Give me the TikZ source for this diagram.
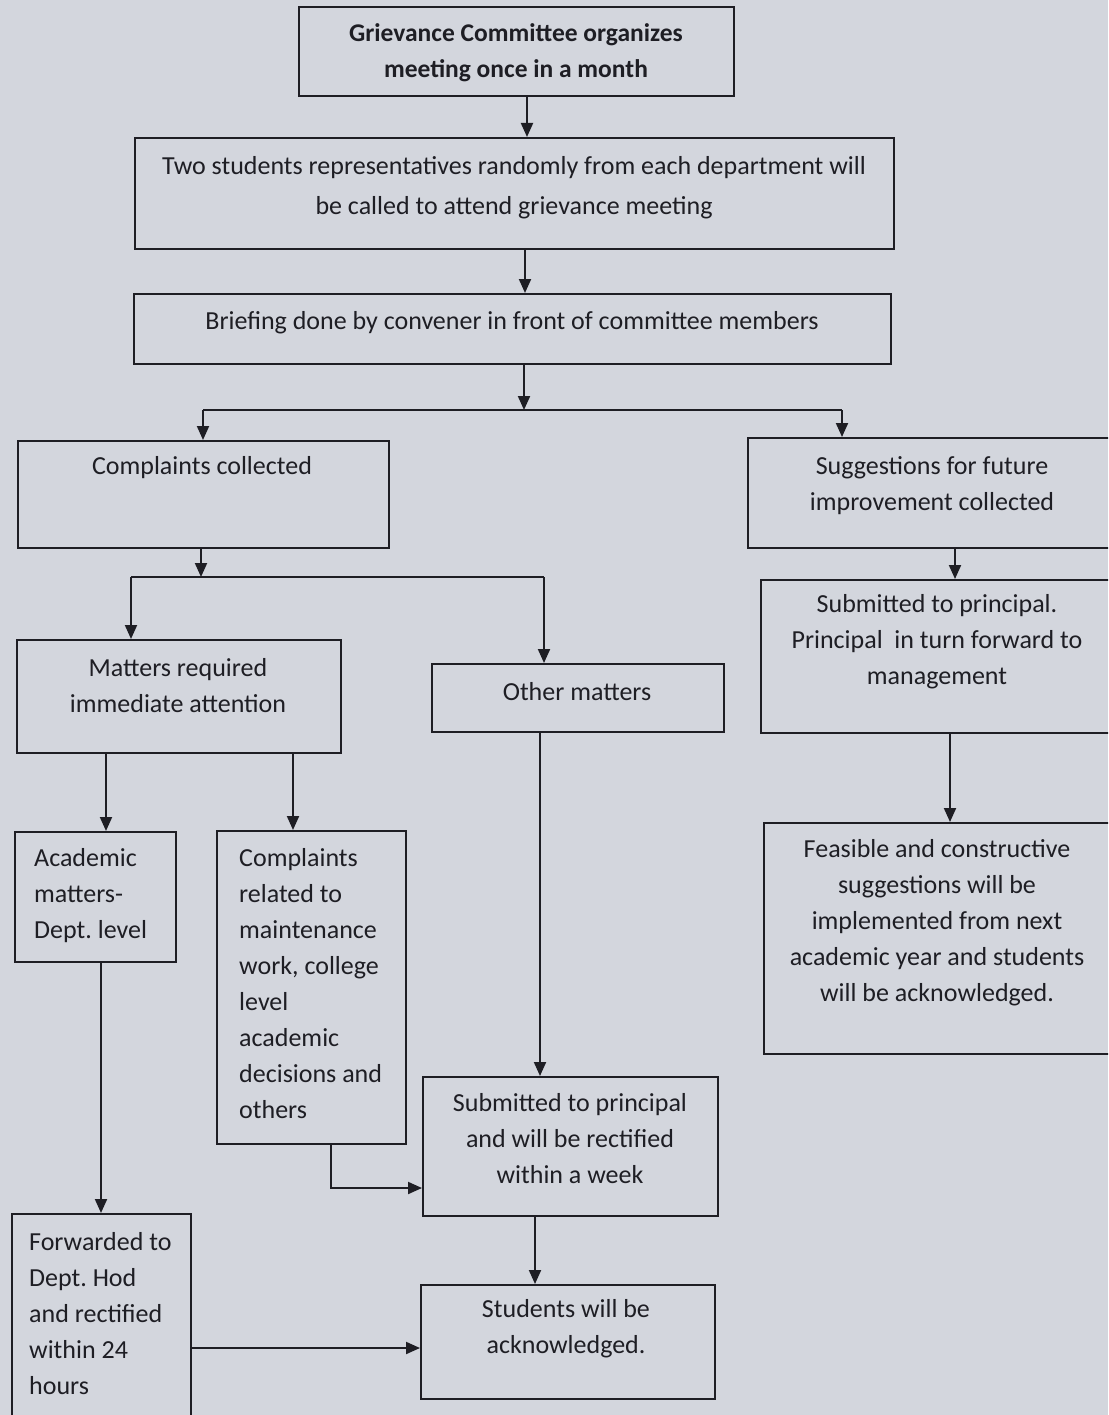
\documentclass[tikz,border=0pt]{standalone}
\usepackage{fontspec}
\setmainfont{Carlito}
\frenchspacing
\usetikzlibrary{arrows.meta}
\definecolor{bg}{RGB}{211,214,221}
\definecolor{ink}{RGB}{30,30,36}
\tikzset{
  box/.style={draw=ink, line width=2pt, inner sep=0pt, anchor=north west},
  txt/.style={text=ink, inner sep=0pt, font=\fontsize{26}{36}\selectfont},
  ctxt/.style={txt, align=center},
  ltxt/.style={txt, align=left, anchor=west},
  conn/.style={draw=ink, line width=2pt, -{Triangle[length=14pt,width=12pt]}},
  seg/.style={draw=ink, line width=2pt},
}
\newcommand{\bx}[5]{\node[box, minimum width={#4pt-#2pt}, minimum height={#5pt-#3pt}] (#1) at (#2,#3) {};}
\begin{document}
\begin{tikzpicture}[x=1pt,y=-1pt]
\fill[bg] (0,0) rectangle (1108,1415);
\useasboundingbox (0,0) rectangle (1108,1415);
\clip (0,0) rectangle (1108,1415);
% boxes
\bx{b1}{298}{6}{733}{95}
\bx{b2}{134}{137}{893}{248}
\bx{b3}{133}{293}{890}{363}
\bx{b4}{17}{440}{388}{547}
\bx{b5}{747}{437}{1120}{547}
\bx{b6}{16}{639}{340}{752}
\bx{b7}{431}{663}{723}{731}
\bx{b8}{760}{579}{1120}{732}
\bx{b9}{14}{831}{175}{961}
\bx{b10}{216}{830}{405}{1143}
\bx{b11}{763}{822}{1120}{1053}
\bx{b12}{422}{1076}{717}{1215}
\bx{b13}{11}{1213}{190}{1430}
\bx{b14}{420}{1284}{714}{1398}
% texts
\node[ctxt, font=\fontsize{25.5}{36}\selectfont\bfseries] (t1) at (516,53) {Grievance Committee organizes\\meeting once in a month};
\node[ctxt, font=\fontsize{26}{40}\selectfont] (t2) at (514,188) {Two students representatives randomly from each department will\\be called to attend grievance meeting};
\node[ctxt] (t3) at (512,323) {Briefing done by convener in front of committee members};
\node[ctxt] (t4) at (202,468) {Complaints collected};
\node[ctxt] (t5) at (932,486) {Suggestions for future\\improvement collected};
\node[ctxt] (t6) at (178,686) {Matters required\\immediate attention};
\node[ctxt] (t7) at (577,692) {Other matters};
\node[ctxt] (t8) at (937,642) {Submitted to principal.\\Principal\ \ in turn forward to\\management};
\node[ltxt] (t9) at (34,896) {Academic\\matters-\\Dept. level};
\node[ltxt] (t10) at (239,984) {Complaints\\related to\\maintenance\\work, college\\level\\academic\\decisions and\\others};
\node[ctxt] (t11) at (937,923) {Feasible and constructive\\suggestions will be\\implemented from next\\academic year and students\\will be acknowledged.};
\node[ctxt] (t12) at (570,1139) {Submitted to principal\\and will be rectified\\within a week};
\node[ltxt] (t13) at (29,1314) {Forwarded to\\Dept. Hod\\and rectified\\within 24\\hours};
\node[ctxt] (t14) at (566,1329) {Students will be\\acknowledged.};
% connectors
\coordinate (j1) at (524,410);
\coordinate (j2) at (201,577);
\coordinate (k1) at (331,1188);
\draw[conn] (b1.south -| 527,0) -- (b2.north -| 527,0);
\draw[conn] (b2.south -| 525,0) -- (b3.north -| 525,0);
\draw[conn] (b3.south -| j1) -- (j1);
\draw[seg] (203,410) -- (842,410);
\draw[conn] (203,410) -- (b4.north -| 203,0);
\draw[conn] (842,410) -- (b5.north -| 842,0);
\draw[conn] (b4.south -| j2) -- (j2);
\draw[seg] (131,577) -- (544,577);
\draw[conn] (131,577) -- (b6.north -| 131,0);
\draw[conn] (544,577) -- (b7.north -| 544,0);
\draw[conn] (b5.south -| 955,0) -- (b8.north -| 955,0);
\draw[conn] (b8.south -| 950,0) -- (b11.north -| 950,0);
\draw[conn] (b6.south -| 106,0) -- (b9.north -| 106,0);
\draw[conn] (b6.south -| 293,0) -- (b10.north -| 293,0);
\draw[conn] (b7.south -| 540,0) -- (b12.north -| 540,0);
\draw[conn] (b9.south -| 101,0) -- (b13.north -| 101,0);
\draw[conn] (b10.south -| k1) -- (k1) -- (k1 -| b12.west);
\draw[conn] (b12.south -| 535,0) -- (b14.north -| 535,0);
\draw[conn] (b13.east |- 0,1348) -- (b14.west |- 0,1348);
\end{tikzpicture}
\end{document}
